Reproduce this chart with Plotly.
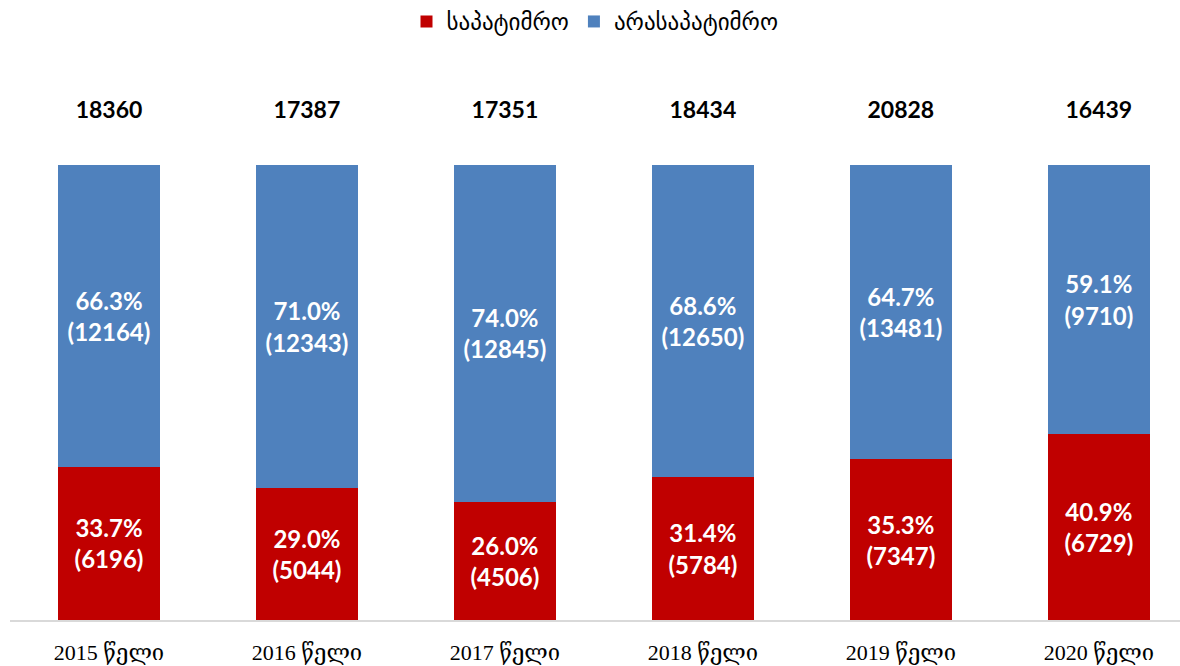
import plotly.graph_objects as go

categories = ["2015 წელი", "2016 წელი", "2017 წელი", "2018 წელი", "2019 წელი", "2020 წელი"]
custodial = [6196, 5044, 4506, 5784, 7347, 6729]
non_custodial = [12164, 12343, 12845, 12650, 13481, 9710]
totals = [18360, 17387, 17351, 18434, 20828, 16439]
pct_custodial = [33.7, 29.0, 26.0, 31.4, 35.3, 40.9]
pct_non_custodial = [66.3, 71.0, 74.0, 68.6, 64.7, 59.1]

RED = "#C00000"
BLUE = "#4F81BD"
LABEL_FONT = "Lato, Open Sans, DejaVu Sans, sans-serif"

fig = go.Figure()
fig.add_trace(go.Bar(
    x=categories, y=pct_custodial, name="საპატიმრო",
    marker=dict(color=RED, line=dict(width=0)),
    text=[f"{p:.1f}%<br>({v})" for p, v in zip(pct_custodial, custodial)],
    textposition="inside", insidetextanchor="middle",
    textfont=dict(color="white", size=24, family=LABEL_FONT, weight="bold"),
    hoverinfo="skip",
))
fig.add_trace(go.Bar(
    x=categories, y=pct_non_custodial, name="არასაპატიმრო",
    marker=dict(color=BLUE, line=dict(width=0)),
    text=[f"{p:.1f}%<br>({v})" for p, v in zip(pct_non_custodial, non_custodial)],
    textposition="inside", insidetextanchor="middle",
    textfont=dict(color="white", size=24, family=LABEL_FONT, weight="bold"),
    hoverinfo="skip",
))
fig.add_trace(go.Scatter(
    x=categories, y=[111.5] * len(categories), mode="text",
    text=[str(t) for t in totals],
    textfont=dict(color="black", size=23, family=LABEL_FONT, weight="bold"),
    showlegend=False, hoverinfo="skip",
))

fig.update_layout(
    width=1180, height=666,
    barmode="stack", bargap=0.485,
    paper_bgcolor="white", plot_bgcolor="white",
    margin=dict(l=10, r=0, t=60, b=46, autoexpand=False),
    uniformtext=dict(mode=False),
    legend=dict(
        orientation="h", x=0.5, xanchor="center", y=1.0, yanchor="top",
        yref="container",
        font=dict(size=23, family="DejaVu Sans, sans-serif", color="black"),
        traceorder="normal",
    ),
    xaxis=dict(
        range=[-0.5, 5.41], automargin=False,
        showline=True, linecolor="#D9D9D9", linewidth=2,
        ticks="outside", ticklen=12, tickcolor="rgba(0,0,0,0)",
        tickfont=dict(size=22, family="Liberation Serif, DejaVu Serif, serif", color="black"),
        showgrid=False, fixedrange=True,
    ),
    yaxis=dict(
        range=[0, 100 * 560 / 455], automargin=False,
        visible=False, showgrid=False, zeroline=False,
    ),
)

fig.write_html(
    "out.html",
    config={"displayModeBar": False, "staticPlot": True},
    post_script="document.body.style.margin='0';document.body.style.overflow='hidden';",
)
